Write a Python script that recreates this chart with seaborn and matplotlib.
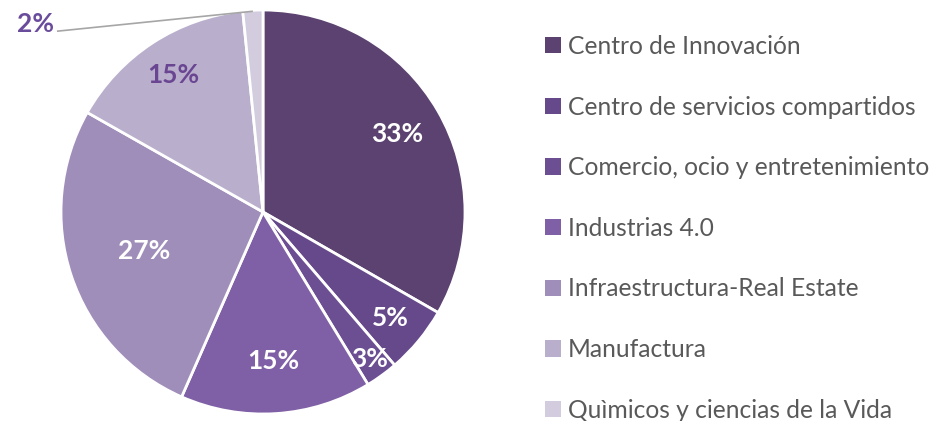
import matplotlib
matplotlib.use("Agg")
import matplotlib.pyplot as plt
import seaborn as sns
import numpy as np

sns.set_theme(style="white")
plt.rcParams['font.family'] = ['Lato', 'DejaVu Sans']

categories = [
    "Centro de Innovación",
    "Centro de servicios compartidos",
    "Comercio, ocio y entretenimiento",
    "Industrias 4.0",
    "Infraestructura-Real Estate",
    "Manufactura",
    "Quìmicos y ciencias de la Vida",
]
values = [33.3, 5.4, 2.6, 15.3, 26.6, 15.2, 1.6]
colors = ["#5b4270", "#66498a", "#6c4e93", "#7f60a6", "#a08eba", "#b9afcc", "#d3ccdf"]

W, H = 936, 421
fig = plt.figure(figsize=(W / 100, H / 100), dpi=100)
cx, cy, R = 263, 212, 202
ax = fig.add_axes([(cx - R) / W, (H - cy - R) / H, 2 * R / W, 2 * R / H])

wedges, texts, autotexts = ax.pie(
    values, colors=colors, startangle=90, counterclock=False,
    autopct='%.0f%%', pctdistance=0.78,
    wedgeprops=dict(edgecolor="white", linewidth=2.0),
    textprops=dict(color="white", fontsize=19, fontweight="bold"),
)
ax.set_xlim(-1, 1)
ax.set_ylim(-1, 1)
ax.set_aspect("equal")
ax.axis("off")

# per-slice label distance tweaks
dists = [0.77, 0.82, 0.90, 0.74, 0.62, 0.81, None]
for w, t, d in zip(wedges, autotexts, dists):
    ang = np.deg2rad((w.theta1 + w.theta2) / 2)
    if d is None:
        t.set_visible(False)
        continue
    t.set_position((d * np.cos(ang), d * np.sin(ang)))
autotexts[5].set_color("#6a4592")

# small slice label with leader line
w = wedges[6]
ang = np.deg2rad((w.theta1 + w.theta2) / 2)
ax.text(-1.035, 0.93, f"{values[6]:.0f}%", ha="right", va="center",
        fontsize=19, fontweight="bold", color="#6a4c9c", clip_on=False)
ax.plot([-1.02, 0.995 * np.cos(ang)], [0.895, 0.995 * np.sin(ang)],
        color="#a6a6a6", lw=1.2, clip_on=False, solid_capstyle="butt")

leg = fig.legend(wedges, categories, loc="upper left",
                 bbox_to_anchor=(545 / W, 1 - 35 / H), frameon=False,
                 fontsize=17.7, labelcolor="#595959",
                 handlelength=0.64, handleheight=0.64, handletextpad=0.3,
                 labelspacing=1.53, borderpad=0, borderaxespad=0)
for h in leg.legend_handles:
    h.set_edgecolor("none")

fig.savefig("out.png", dpi=100)
